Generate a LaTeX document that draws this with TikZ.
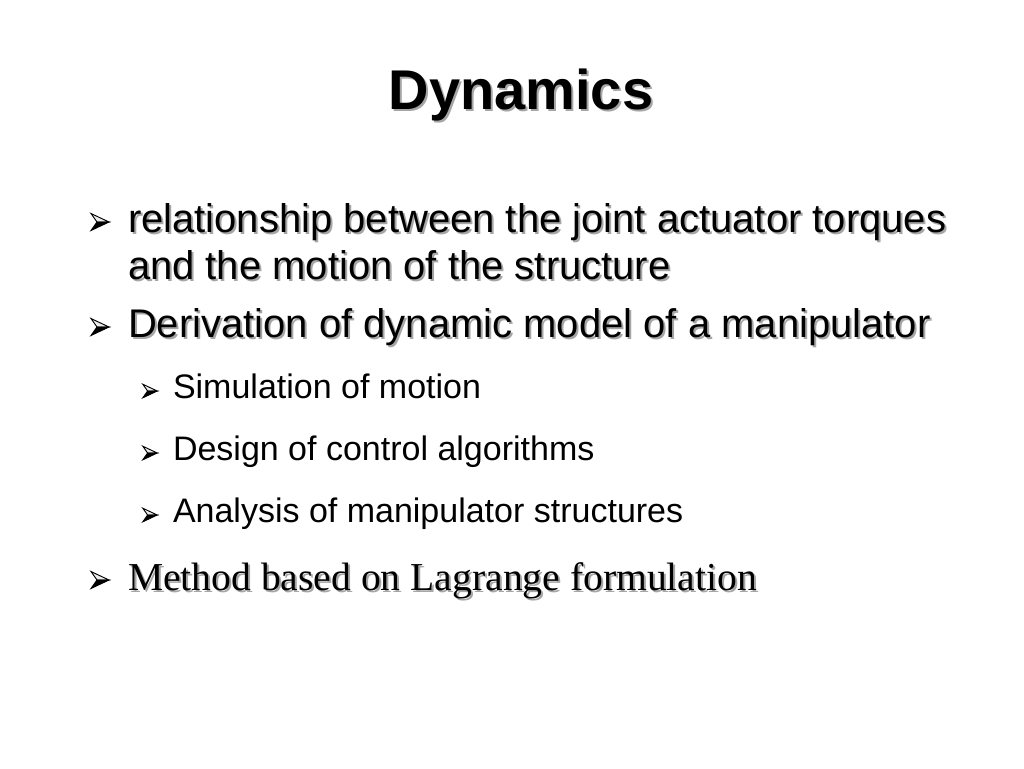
\documentclass[tikz,border=0pt]{standalone}
\usepackage{fontspec}
\setmainfont{Liberation Sans}
\newfontfamily\seriffam{Liberation Serif}
\begin{document}
\begin{tikzpicture}[x=0.75pt,y=-0.75pt,
  txt/.style={anchor=base west,inner sep=0pt,outer sep=0pt,text=black},
  shd/.style={anchor=base west,inner sep=0pt,outer sep=0pt,text=black!35},
  lone/.style={font=\fontsize{30}{36}\selectfont},
  ltwo/.style={font=\fontsize{25.5}{30}\selectfont},
  bul/.pic={
    \fill[black!8,draw=black,line width=0.7pt,line join=miter] (9,0) -- (-9,-8.5) -- (-3,0) -- cycle;
    \fill[black,draw=black,line width=0.7pt] (9,0) -- (-3,0) -- (-9,8.5) -- cycle;
  }]
\useasboundingbox[fill=white] (0,0) rectangle (1024,768);
% title
\node[anchor=base,inner sep=0pt,text=black!35,font=\fontsize{42}{50}\selectfont\bfseries] (titles) at (523,111) {Dynamics};
\node[anchor=base,inner sep=0pt,text=black,font=\fontsize{42}{50}\selectfont\bfseries] (title) at (521,109) {Dynamics};
% level one
\pic at (100,222) {bul};
\node[shd,lone] (a1s) at (130,234) {relationship between the joint actuator torques};
\node[txt,lone] (a1) at (128,232) {relationship between the joint actuator torques};
\node[shd,lone] (a2s) at (130,281) {and the motion of the structure};
\node[txt,lone] (a2) at (128,279) {and the motion of the structure};
\pic at (100,327) {bul};
\node[shd,lone] (bs) at (130,339) {Derivation of dynamic model of a manipulator};
\node[txt,lone] (b) at (128,337) {Derivation of dynamic model of a manipulator};
% level two
\pic[scale=0.8] at (150,391) {bul};
\node[txt,ltwo] (c1) at (173,398) {Simulation of motion};
\pic[scale=0.8] at (150,453) {bul};
\node[txt,ltwo] (c2) at (173,460) {Design of control algorithms};
\pic[scale=0.8] at (150,515) {bul};
\node[txt,ltwo] (c3) at (173,522) {Analysis of manipulator structures};
% last
\pic at (100,580) {bul};
\node[shd,lone,font=\fontsize{29.7}{36}\selectfont\seriffam] (ds) at (130,592) {Method based on Lagrange formulation};
\node[txt,lone,font=\fontsize{29.7}{36}\selectfont\seriffam] (d) at (128,590) {Method based on Lagrange formulation};
\end{tikzpicture}
\end{document}
